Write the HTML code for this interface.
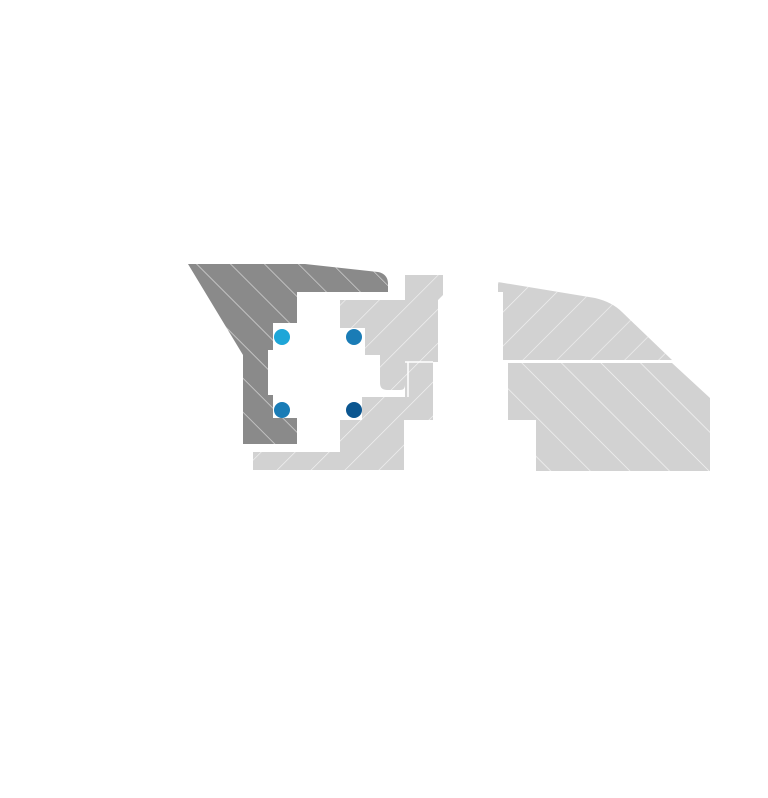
<!DOCTYPE html>
<html><head><meta charset="utf-8"><style>html,body{margin:0;padding:0;background:#fff}svg{display:block}</style></head>
<body>
<svg width="768" height="798" viewBox="0 0 768 798" xmlns="http://www.w3.org/2000/svg">
<defs>
<pattern id="hb" patternUnits="userSpaceOnUse" width="24" height="24" patternTransform="rotate(45)">
<line x1="0" y1="0" x2="0" y2="24" stroke="#fff" stroke-opacity="0.7" stroke-width="1.3"/>
</pattern>
<pattern id="hf" patternUnits="userSpaceOnUse" width="24" height="24" patternTransform="rotate(-45)">
<line x1="0" y1="0" x2="0" y2="24" stroke="#fff" stroke-opacity="0.7" stroke-width="1.3"/>
</pattern>
<pattern id="hf2" patternUnits="userSpaceOnUse" width="28" height="28" patternTransform="rotate(-45)">
<line x1="0" y1="0" x2="0" y2="28" stroke="#fff" stroke-opacity="0.8" stroke-width="1.3"/>
</pattern>
</defs>
<!-- dark piece -->
<path d="M188,264 H305 L378,272 Q388,274 388,284 V292 H297 V323 H273 V350 H268 V395 H273 V418 H297 V444 H243 V355 Z" fill="#8a8a8a"/>
<path d="M188,264 H305 L378,272 Q388,274 388,284 V292 H297 V323 H273 V350 H268 V395 H273 V418 H297 V444 H243 V355 Z" fill="url(#hf)"/>
<!-- light left piece -->
<g>
<path d="M405,275 H443 V295 L438,300 V362 H433 V420 H404 V470 H253 V452 H340 V420 H362 V397 H405 V370 L405,385 Q405,390 400,390 H387 Q380,390 380,383 V355 H365 V328 H340 V300 H405 Z" fill="#d2d2d2"/>
<path d="M405,275 H443 V295 L438,300 V362 H433 V420 H404 V470 H253 V452 H340 V420 H362 V397 H405 V370 L405,385 Q405,390 400,390 H387 Q380,390 380,383 V355 H365 V328 H340 V300 H405 Z" fill="url(#hb)"/>
<line x1="405" y1="362" x2="433" y2="362" stroke="#fff" stroke-width="1.5"/>
<line x1="408" y1="362" x2="408" y2="397" stroke="#fff" stroke-width="1.5"/>
</g>
<!-- right upper -->
<path d="M498,282 L595,298 Q612,302 622,312 L672,360 H503 V292 H498 Z" fill="#d2d2d2"/>
<path d="M498,282 L595,298 Q612,302 622,312 L672,360 H503 V292 H498 Z" fill="url(#hb)"/>
<!-- right lower -->
<path d="M508,363 H672 L710,398 V471 H536 V420 H508 Z" fill="#d2d2d2"/>
<path d="M508,363 H672 L710,398 V471 H536 V420 H508 Z" fill="url(#hf2)"/>
<!-- dots -->
<circle cx="282" cy="337" r="8" fill="#1ea6d8"/>
<circle cx="354" cy="337" r="8" fill="#1a7cb6"/>
<circle cx="282" cy="410" r="8" fill="#1a7cb6"/>
<circle cx="354" cy="410" r="8" fill="#0b5690"/>
</svg>
</body></html>
